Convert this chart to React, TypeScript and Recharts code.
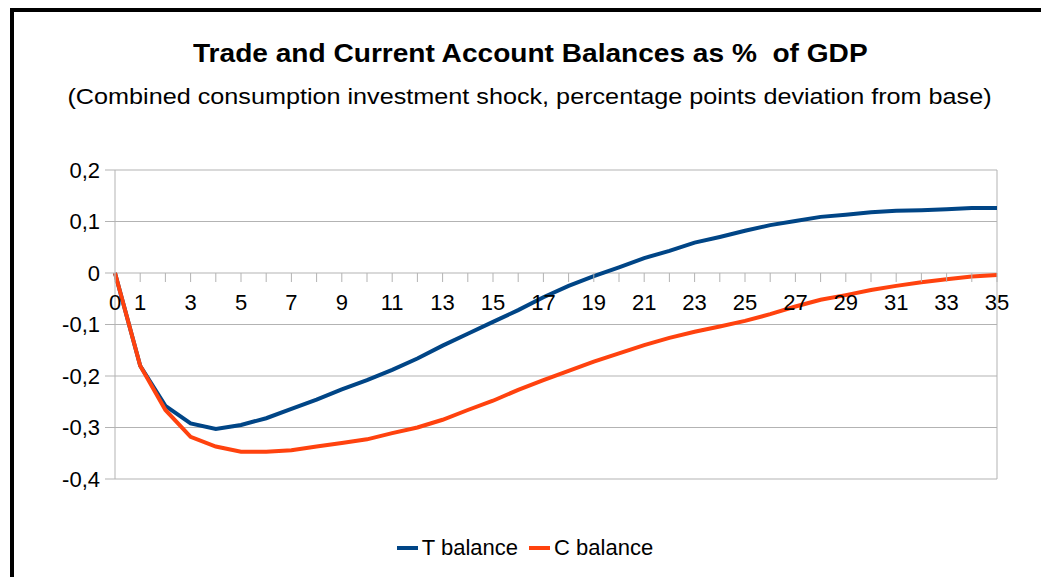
import { LineChart, Line, XAxis, YAxis, CartesianGrid, ReferenceLine } from "recharts"

const periods = [0, 1, 2, 3, 4, 5, 6, 7, 8, 9, 10, 11, 12, 13, 14, 15, 16, 17, 18, 19, 20, 21, 22, 23, 24, 25, 26, 27, 28, 29, 30, 31, 32, 33, 34, 35]
const tBalance = [0, -0.18, -0.258, -0.292, -0.303, -0.295, -0.282, -0.264, -0.246, -0.226, -0.208, -0.188, -0.166, -0.141, -0.118, -0.095, -0.072, -0.047, -0.025, -0.006, 0.011, 0.029, 0.043, 0.059, 0.07, 0.082, 0.093, 0.101, 0.109, 0.113, 0.118, 0.121, 0.122, 0.124, 0.126, 0.126]
const cBalance = [0, -0.18, -0.266, -0.318, -0.337, -0.347, -0.347, -0.344, -0.337, -0.33, -0.323, -0.311, -0.3, -0.285, -0.266, -0.248, -0.227, -0.208, -0.19, -0.172, -0.156, -0.14, -0.126, -0.114, -0.104, -0.093, -0.08, -0.065, -0.052, -0.043, -0.033, -0.025, -0.018, -0.012, -0.007, -0.004]
const yTicks = [-0.4, -0.3, -0.2, -0.1, 0, 0.1, 0.2]
const series = [
  { key: "t", label: "T balance", color: "#004586" },
  { key: "c", label: "C balance", color: "#ff420e" },
]
const title = "Trade and Current Account Balances as %  of GDP"
const subtitle = "(Combined consumption investment shock, percentage points deviation from base)"

const W = 1041
const H = 577
const margin = { top: 170, right: 44, bottom: 68, left: 15 }
const X_AXIS_H = 30
const Y_MIN = -0.4
const Y_MAX = 0.2
const FONT = "'Liberation Sans', Arial, sans-serif"

// y pixel of the zero line, where the category labels hang
const plotH = H - margin.top - margin.bottom - X_AXIS_H
const zeroY = margin.top + (plotH * (Y_MAX - 0)) / (Y_MAX - Y_MIN)

const data = periods.map((p, i) => ({ p, t: tBalance[i], c: cBalance[i] }))

const fmtY = (v: number) => (v === 0 ? "0" : v.toFixed(1).replace(".", ","))

const XTick = ({ x, payload }: any) => {
  const v = payload.value
  const show = v === 0 || v % 2 === 1
  return (
    <g>
      <line x1={x} x2={x} y1={zeroY} y2={zeroY + 9} stroke="#b3b3b3" strokeWidth={1} />
      {show && (
        <text x={x} y={zeroY + 37} textAnchor="middle" fontSize={22} fontFamily={FONT} fill="#000">
          {v}
        </text>
      )}
    </g>
  )
}

export default function App() {
  return (
    <div style={{ position: "absolute", left: 0, top: 0, width: W, height: H, overflow: "hidden", background: "#fff", fontFamily: FONT }}>
      {/* frame */}
      <div style={{ position: "absolute", left: 10, top: 8, width: W, height: H, borderTop: "4px solid #000", borderLeft: "4px solid #000" }} />

      <div style={{ position: "absolute", left: 10, top: 38, width: 1040, textAlign: "center", color: "#000" }}>
        <span style={{ display: "inline-block", fontSize: 26, fontWeight: "bold", whiteSpace: "pre", transform: "scaleX(1.08)" }}>{title}</span>
      </div>
      <div style={{ position: "absolute", left: 10, top: 84, width: 1040, textAlign: "center", color: "#000" }}>
        <span style={{ display: "inline-block", fontSize: 22, whiteSpace: "pre", transform: "scaleX(1.145)" }}>{subtitle}</span>
      </div>

      <div style={{ position: "absolute", left: 0, top: 0 }}>
        <LineChart width={W} height={H} data={data} margin={margin}>
          <CartesianGrid horizontal vertical={false} stroke="#b3b3b3" strokeWidth={1} />
          <XAxis
            dataKey="p"
            type="number"
            domain={[0, 35]}
            ticks={periods}
            interval={0}
            height={X_AXIS_H}
            axisLine={false}
            tickLine={false}
            tick={<XTick />}
          />
          <YAxis
            type="number"
            domain={[Y_MIN, Y_MAX]}
            ticks={yTicks}
            width={100}
            tickFormatter={fmtY}
            axisLine={{ stroke: "#b3b3b3" }}
            tickLine={{ stroke: "#b3b3b3" }}
            tickSize={10}
            tickMargin={5}
            tick={{ fontSize: 22, fill: "#000", fontFamily: FONT }}
          />
          <ReferenceLine x={35} stroke="#b3b3b3" />
          {series.map((s) => (
            <Line
              key={s.key}
              type="linear"
              dataKey={s.key}
              name={s.label}
              stroke={s.color}
              strokeWidth={4}
              dot={false}
              isAnimationActive={false}
            />
          ))}
        </LineChart>
      </div>

      <div style={{ position: "absolute", left: 0, top: 535, width: 1050, display: "flex", justifyContent: "center", gap: 11, fontSize: 22, color: "#000" }}>
        {series.map((s) => (
          <div key={s.key} style={{ display: "flex", alignItems: "center", gap: 4 }}>
            <div style={{ width: 21, height: 4, background: s.color }} />
            <span>{s.label}</span>
          </div>
        ))}
      </div>
    </div>
  )
}
